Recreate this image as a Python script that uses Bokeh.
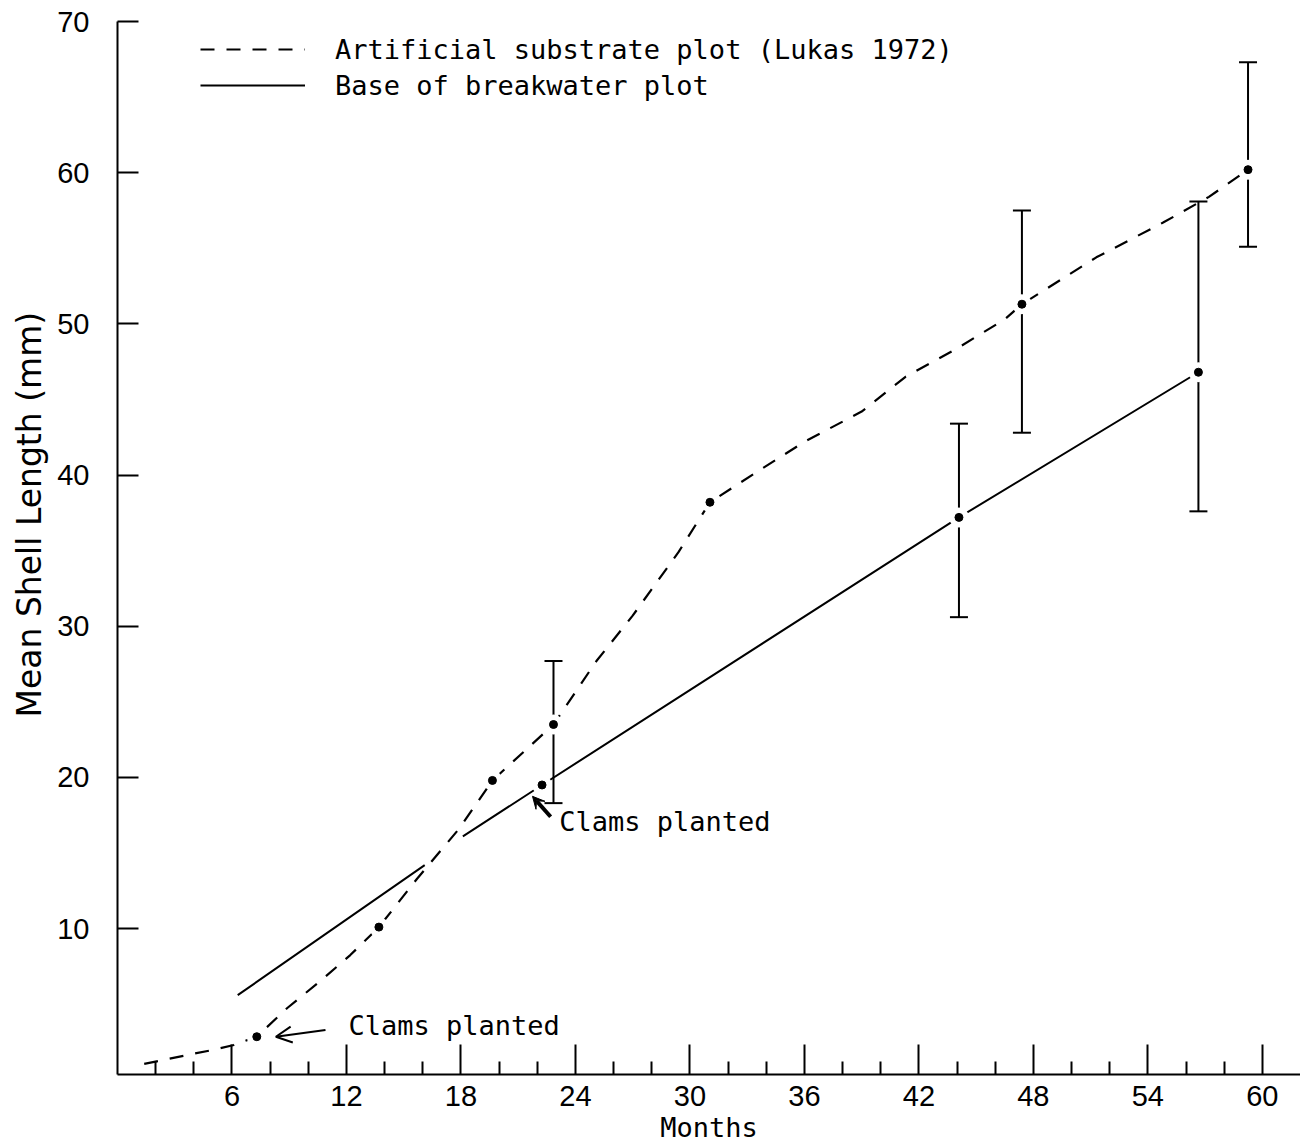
import math
from bokeh.plotting import figure
from bokeh.models import (ColumnDataSource, FixedTicker, Whisker, TeeHead, Legend, LegendItem,
                          Label, Arrow, OpenHead, VeeHead, Range1d, Title)
from bokeh.embed import file_html
from bokeh.resources import INLINE

nan = float("nan")

# ---- data ----
# Artificial substrate plot (Lukas 1972) -- dashed curve
art_months = [1.4, 3.7, 5.1, 6.1, 7.3, 8.9, 10.6, 12.2, 13.7, 15.7, 17.9, 19.65, 22.85,
              25.1, 27.0, 29.4, 31.05, 33.5, 36.0, 39.0, 41.3, 43.9, 46.5, 47.4,
              51.3, 54.8, 57.2, 59.25]
art_length = [1.05, 1.65, 2.0, 2.3, 2.85, 4.75, 6.5, 8.25, 10.1, 13.3, 16.6, 19.8, 23.5,
              27.7, 30.7, 34.9, 38.2, 40.2, 42.2, 44.2, 46.5, 48.3, 50.3, 51.3,
              54.4, 56.7, 58.4, 60.2]
art_dot_months = [7.3, 13.7, 19.65, 22.85, 31.05, 47.4, 59.25]
art_dot_length = [2.85, 10.1, 19.8, 23.5, 38.2, 51.3, 60.2]
art_err_months = [22.85, 47.4, 59.25]
art_err_upper = [27.7, 57.5, 67.3]
art_err_lower = [18.3, 42.8, 55.1]

# Base of breakwater plot -- solid line (pen lifted where the curves cross)
base_months = [6.3, 16.1, nan, 18.1, 22.25, 44.1, 56.65]
base_length = [5.6, 14.2, nan, 16.1, 19.5, 37.2, 46.8]
base_dot_months = [22.25, 44.1, 56.65]
base_dot_length = [19.5, 37.2, 46.8]
base_err_months = [44.1, 56.65]
base_err_upper = [43.4, 58.1]
base_err_lower = [30.6, 37.6]

x_major_ticks = [6, 12, 18, 24, 30, 36, 42, 48, 54, 60]
x_minor_ticks = [2, 4, 8, 10, 14, 16, 20, 22, 26, 28, 32, 34, 38, 40, 44, 46, 50, 52, 56, 58]
y_ticks = [10, 20, 30, 40, 50, 60, 70]

# annotation anchors (months, mm)
planted_label_low = (12.1, 3.6)
planted_arrow_low = (10.9, 3.3, 8.3, 2.85)
planted_label_high = (23.15, 17.1)
planted_arrow_high = (22.7, 17.4, 21.75, 18.75)

MONO = "DejaVu Sans Mono"
SANS = "Liberation Sans"

p = figure(width=1300, height=1145, x_range=Range1d(0, 62.0), y_range=Range1d(0.35, 70),
           output_backend="svg", toolbar_location=None,
           min_border_left=117, min_border_top=21, min_border_right=0, min_border_bottom=0)
p.outline_line_color = None
p.grid.visible = False
p.background_fill_color = "white"
p.border_fill_color = "white"

# x axis
xa = p.xaxis[0]
xa.ticker = FixedTicker(ticks=x_major_ticks, minor_ticks=x_minor_ticks)
xa.axis_line_width = 2
xa.axis_line_color = "black"
xa.major_tick_in = 30
xa.major_tick_out = 0
xa.minor_tick_in = 13
xa.minor_tick_out = 0
xa.major_tick_line_width = 2
xa.minor_tick_line_width = 2
xa.major_tick_line_color = "black"
xa.minor_tick_line_color = "black"
xa.major_label_text_font = SANS
xa.major_label_text_font_size = "29px"
xa.major_label_text_color = "black"
xa.major_label_standoff = 11
xa.axis_label = "Months"
xa.axis_label_text_font = MONO
xa.axis_label_text_font_size = "27px"
xa.axis_label_text_font_style = "normal"
xa.axis_label_text_color = "black"
xa.axis_label_standoff = 3

# y axis
ya = p.yaxis[0]
ya.ticker = FixedTicker(ticks=y_ticks, minor_ticks=[])
ya.axis_line_width = 2
ya.axis_line_color = "black"
ya.major_tick_in = 21
ya.major_tick_out = 0
ya.minor_tick_in = 0
ya.minor_tick_out = 0
ya.major_tick_line_width = 2
ya.major_tick_line_color = "black"
ya.major_label_text_font = SANS
ya.major_label_text_font_size = "29px"
ya.major_label_text_color = "black"
ya.major_label_standoff = 28

p.add_layout(Title(text="Mean Shell Length (mm)", align="left", offset=357, standoff=12,
                   text_font="DejaVu Sans", text_font_size="33px",
                   text_font_style="normal", text_color="black"), "left")

# error bars
art_err = ColumnDataSource(dict(x=art_err_months, upper=art_err_upper, lower=art_err_lower))
base_err = ColumnDataSource(dict(x=base_err_months, upper=base_err_upper, lower=base_err_lower))
for src in (art_err, base_err):
    p.add_layout(Whisker(source=src, base="x", upper="upper", lower="lower",
                         line_width=2, line_color="black", level="underlay",
                         upper_head=TeeHead(size=18, line_width=2, line_color="black"),
                         lower_head=TeeHead(size=18, line_width=2, line_color="black")))

art_line = p.line(art_months, art_length, line_color="black", line_width=2.2,
                  line_dash="14 12")
base_line = p.line(base_months, base_length, line_color="black", line_width=2)

# white halos (pen gaps around the points), then the points
all_dot_x = art_dot_months + base_dot_months
all_dot_y = art_dot_length + base_dot_length
p.scatter(all_dot_x, all_dot_y, size=20, fill_color="white", line_color=None)
p.scatter(all_dot_x, all_dot_y, size=8, fill_color="black", line_color="black")

# annotations
p.add_layout(Label(x=planted_label_low[0], y=planted_label_low[1], text="Clams planted",
                   text_font=MONO, text_font_size="27px", text_baseline="middle",
                   text_align="left", text_color="black"))
p.add_layout(Arrow(x_start=planted_arrow_low[0], y_start=planted_arrow_low[1],
                   x_end=planted_arrow_low[2], y_end=planted_arrow_low[3],
                   line_width=2, line_color="black",
                   end=OpenHead(size=16, line_width=2, line_color="black")))
p.add_layout(Label(x=planted_label_high[0], y=planted_label_high[1], text="Clams planted",
                   text_font=MONO, text_font_size="27px", text_baseline="middle",
                   text_align="left", text_color="black"))
p.add_layout(Arrow(x_start=planted_arrow_high[0], y_start=planted_arrow_high[1],
                   x_end=planted_arrow_high[2], y_end=planted_arrow_high[3],
                   line_width=4, line_color="black",
                   end=VeeHead(size=12, line_width=1, line_color="black", fill_color="black")))

legend = Legend(items=[LegendItem(label="Artificial substrate plot (Lukas 1972)", renderers=[art_line]),
                       LegendItem(label="Base of breakwater plot", renderers=[base_line])],
                location=(83, 971), glyph_width=105, glyph_height=36, label_height=36,
                label_standoff=30, label_text_font=MONO, label_text_font_size="27px",
                label_text_color="black", spacing=0, padding=0, margin=0,
                border_line_color=None, background_fill_alpha=0)
p.add_layout(legend)

open("out.html", "w").write(file_html(p, INLINE))
